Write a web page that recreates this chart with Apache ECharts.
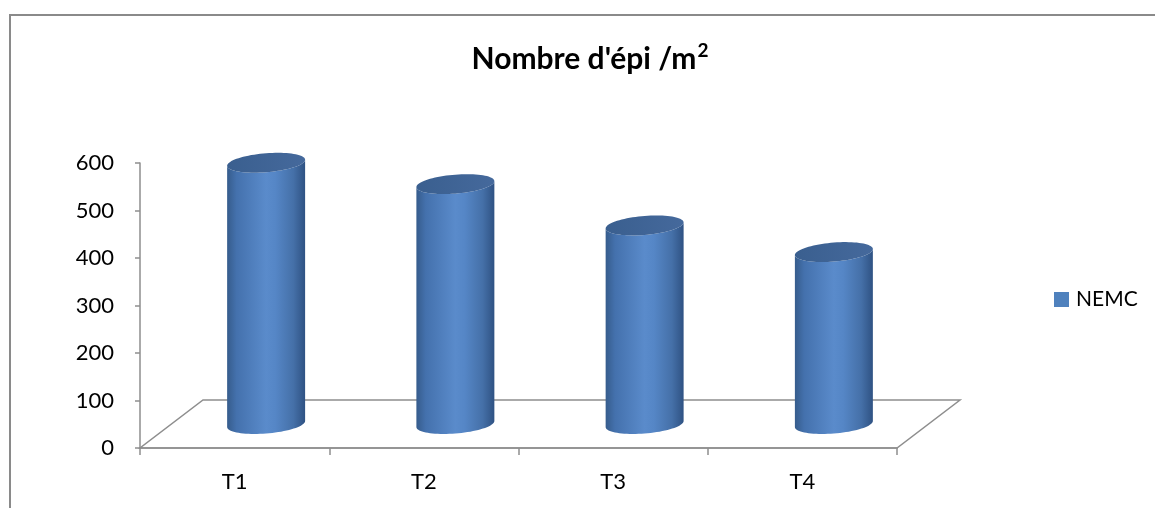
<!DOCTYPE html>
<html>
<head>
<meta charset="utf-8">
<script src="https://cdn.jsdelivr.net/npm/echarts@6/dist/echarts.min.js"></script>
<style>
  html, body { margin: 0; padding: 0; background: #fff; }
  #chart { width: 1155px; height: 508px; }
</style>
</head>
<body>
<div id="chart"></div>
<script>
// Ear count per square metre for each treatment
const categories = ['T1', 'T2', 'T3', 'T4'];
const nemcValues = [550, 505, 418, 362];
const seriesName = 'NEMC';
const titleMain = "Nombre d'épi /m";
const titleSup = '2';
const yTicks = { min: 0, max: 600, interval: 100 };

// Oblique floor depth and cylinder shape (pixels)
const DEPTH_X = 63;
const DEPTH_Y = 48;
const RADIUS_RATIO = 0.206;
const CAP_RY = 9.5;
const CAP_SHEAR = 3;
const LINE_GRAY = '#8e8e8e';
const FONT = 'Lato, "Open Sans", sans-serif';

const chart = echarts.init(document.getElementById('chart'));

function ellipsePoint(cx, cy, rx, t) {
  return [cx + rx * Math.cos(t), cy + CAP_RY * Math.sin(t) - CAP_SHEAR * Math.cos(t)];
}

function renderFloor(params, api) {
  const cs = params.coordSys;
  const x0 = cs.x, y0 = cs.y + cs.height, x1 = cs.x + cs.width;
  return {
    type: 'polygon',
    shape: {
      points: [[x0, y0], [x1, y0], [x1 + DEPTH_X, y0 - DEPTH_Y], [x0 + DEPTH_X, y0 - DEPTH_Y]]
    },
    style: { fill: 'none', stroke: LINE_GRAY, lineWidth: 1.5 },
    silent: true
  };
}

function renderCylinder(params, api) {
  const idx = api.value(0);
  const base = api.coord([idx, 0]);
  const top = api.coord([idx, api.value(1)]);
  const rx = api.size([1, 0])[0] * RADIUS_RATIO;
  const cx = base[0] + DEPTH_X / 2;
  const by = base[1] - DEPTH_Y / 2;
  const ty = top[1] - DEPTH_Y / 2;
  const steps = 40;

  const body = [];
  body.push([cx - rx, ty + CAP_SHEAR]);
  for (let k = 0; k <= steps; k++) {
    body.push(ellipsePoint(cx, by, rx, Math.PI - Math.PI * k / steps));
  }
  for (let k = 0; k <= steps; k++) {
    body.push(ellipsePoint(cx, ty, rx, Math.PI * k / steps));
  }

  const cap = [];
  for (let k = 0; k < steps * 2; k++) {
    cap.push(ellipsePoint(cx, ty, rx, Math.PI * 2 * k / (steps * 2)));
  }

  return {
    type: 'group',
    children: [
      {
        type: 'polygon',
        shape: { points: body },
        style: {
          fill: new echarts.graphic.LinearGradient(0, 0, 1, 0, [
            { offset: 0, color: '#365c8c' },
            { offset: 0.12, color: '#4471ad' },
            { offset: 0.5, color: '#5a8bcb' },
            { offset: 0.62, color: '#5586c6' },
            { offset: 0.85, color: '#4570a8' },
            { offset: 1, color: '#2f5283' }
          ])
        }
      },
      {
        type: 'polygon',
        shape: { points: cap },
        style: {
          fill: new echarts.graphic.LinearGradient(0, 0, 1, 0, [
            { offset: 0, color: '#3a5f8f' },
            { offset: 1, color: '#45699c' }
          ])
        }
      }
    ]
  };
}

chart.setOption({
  animation: false,
  backgroundColor: '#ffffff',
  title: {
    text: '{a|' + titleMain + '}{s|' + titleSup + '}',
    left: 585,
    top: 36,
    textAlign: 'center',
    textStyle: {
      rich: {
        a: { fontFamily: FONT, fontSize: 30, fontWeight: 'bold', color: '#000', lineHeight: 36 },
        s: { fontFamily: FONT, fontSize: 19, fontWeight: 'bold', color: '#000', verticalAlign: 'top', lineHeight: 22, padding: [0, 0, 0, 1] }
      }
    }
  },
  legend: {
    data: [seriesName],
    left: 1054,
    top: 289,
    padding: 0,
    icon: 'rect',
    itemWidth: 15,
    itemHeight: 15,
    textStyle: { fontFamily: FONT, fontSize: 21, color: '#000', padding: [0, 0, 0, 2] }
  },
  graphic: [{
    type: 'polyline',
    shape: { points: [[10, 520], [10, 15], [1170, 15]] },
    style: { stroke: '#8a8a8a', lineWidth: 2, fill: 'none' },
    silent: true
  }],
  grid: { left: 140, top: 163, width: 757, height: 285 },
  xAxis: {
    type: 'category',
    data: categories,
    axisLine: { show: true, lineStyle: { color: LINE_GRAY, width: 1.5 } },
    axisTick: { show: true, alignWithLabel: false, length: 7, lineStyle: { color: LINE_GRAY, width: 1.5 } },
    axisLabel: { margin: 23, fontFamily: FONT, fontSize: 22, color: '#000' },
    splitLine: { show: false }
  },
  yAxis: {
    type: 'value',
    min: yTicks.min,
    max: yTicks.max,
    interval: yTicks.interval,
    axisLine: { show: true, lineStyle: { color: LINE_GRAY, width: 1.5 } },
    axisTick: { show: true, length: 5, lineStyle: { color: LINE_GRAY, width: 1.5 } },
    axisLabel: { margin: 26, fontFamily: FONT, fontSize: 22, color: '#000' },
    splitLine: { show: false }
  },
  series: [
    {
      name: 'floor',
      type: 'custom',
      renderItem: renderFloor,
      data: [[0, 0]],
      clip: false,
      silent: true,
      z: 1,
      tooltip: { show: false }
    },
    {
      name: seriesName,
      type: 'custom',
      renderItem: renderCylinder,
      itemStyle: { color: '#4f81bd' },
      data: nemcValues.map((v, i) => [i, v]),
      encode: { x: 0, y: 1 },
      clip: false,
      z: 3
    }
  ]
});
</script>
</body>
</html>
